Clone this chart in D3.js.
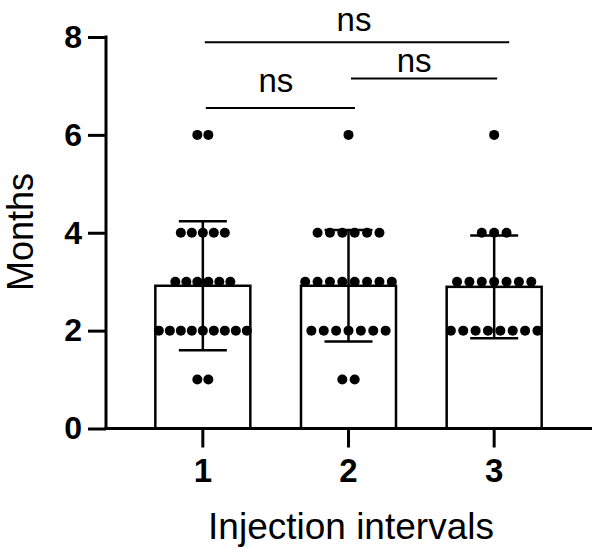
<!DOCTYPE html>
<html>
<head>
<meta charset="utf-8">
<script src="https://cdn.jsdelivr.net/npm/d3@7/dist/d3.min.js"></script>
<style>
  html, body { margin: 0; padding: 0; background: #fff; }
  svg { display: block; }
  text { font-family: "Liberation Sans", Arial, Helvetica, sans-serif; fill: #000; }
</style>
</head>
<body>
<svg id="chart" width="600" height="558"></svg>
<script>
// ---- data ----
const categories = ["1", "2", "3"];
const group1 = [6,6, 4,4,4,4,4, 3,3,3,3,3,3, 2,2,2,2,2,2,2,2,2, 1,1];
const group2 = [6, 4,4,4,4,4,4, 3,3,3,3,3,3,3,3, 2,2,2,2,2,2,2, 1,1];
const group3 = [6, 4,4,4, 3,3,3,3,3,3,3, 2,2,2,2,2,2,2,2];
const yTicks = [0, 2, 4, 6, 8];
const comparisons = [
  { from: "1", to: "3", level: 7.894, labelLevel: 8.13, label: "ns" },
  { from: "1", to: "2", level: 6.547, labelLevel: 6.867, label: "ns" },
  { from: "2", to: "3", level: 7.153, labelLevel: 7.276, label: "ns" }
];
const yTitle = "Months";
const xTitle = "Injection intervals";

const groups = [group1, group2, group3];

// ---- styling offsets for brackets (px) ----
const bracketStyle = [
  { dx1: 2, dx2: 15, ldx: -3 },
  { dx1: 3, dx2: 6.5, ldx: -4.5 },
  { dx1: 2.5, dx2: 3, ldx: -10 }
];

// ---- layout ----
const svg = d3.select("#chart");
const axisX = 106, axisBottom = 428.5, axisTop = 37, axisRight = 592;

const y = d3.scaleLinear().domain([0, 8]).range([axisBottom, axisTop]);
const x = d3.scaleBand().domain(categories).range([130, 567]).padding(0);
const cx = c => x(c) + x.bandwidth() / 2;
const barW = 95;

const stats = categories.map((c, i) => {
  const v = groups[i];
  return { c, values: v, mean: d3.mean(v), sd: d3.deviation(v) };
});

const g = svg.append("g");

// bars
g.selectAll("rect.bar").data(stats).join("rect")
  .attr("class", "bar")
  .attr("x", d => cx(d.c) - barW / 2)
  .attr("y", d => y(d.mean))
  .attr("width", barW)
  .attr("height", d => y(0) - y(d.mean))
  .attr("fill", "#fff")
  .attr("stroke", "#000")
  .attr("stroke-width", 2.5);

// error bars (mean ± SD)
const capW = 48;
stats.forEach(d => {
  const eg = g.append("g").attr("stroke", "#000").attr("stroke-width", 2.5);
  eg.append("line").attr("x1", cx(d.c)).attr("x2", cx(d.c))
    .attr("y1", y(d.mean - d.sd)).attr("y2", y(d.mean + d.sd));
  [d.mean - d.sd, d.mean + d.sd].forEach(v => {
    eg.append("line").attr("x1", cx(d.c) - capW / 2).attr("x2", cx(d.c) + capW / 2)
      .attr("y1", y(v)).attr("y2", y(v));
  });
});

// dots
stats.forEach(d => {
  const counts = d3.rollup(d.values, v => v.length, v => v);
  const maxCount = d3.max(Array.from(counts.values()));
  const spacing = Math.min(12.5, 99 / maxCount);
  const pts = [];
  counts.forEach((n, val) => {
    for (let k = 0; k < n; k++) {
      pts.push({ x: cx(d.c) + (k - (n - 1) / 2) * spacing, v: val });
    }
  });
  g.selectAll(null).data(pts).join("circle")
    .attr("cx", p => p.x)
    .attr("cy", p => y(p.v))
    .attr("r", 5)
    .attr("fill", "#000");
});

// axes
const yAxis = d3.axisLeft(y).tickValues(yTicks).tickSize(18).tickPadding(6).tickFormat(d3.format("d"));
const ya = svg.append("g").attr("transform", `translate(${axisX},0)`).call(yAxis);
ya.select(".domain").remove();
ya.append("line").attr("x1", 0).attr("x2", 0).attr("y1", axisTop - 1.5).attr("y2", axisBottom + 1.5)
  .attr("stroke", "#000").attr("stroke-width", 3);
ya.selectAll(".tick line").attr("stroke", "#000").attr("stroke-width", 3);
ya.selectAll(".tick text")
  .style("font-family", '"Liberation Sans", Arial, sans-serif')
  .style("font-size", "32px").style("font-weight", "bold").attr("fill", "#000");

const xAxis = d3.axisBottom(x).tickSize(19).tickPadding(11).tickSizeOuter(0);
const xa = svg.append("g").attr("transform", `translate(0,${axisBottom})`).call(xAxis);
xa.select(".domain").remove();
xa.append("line").attr("x1", axisX - 1.5).attr("x2", axisRight).attr("y1", 0).attr("y2", 0)
  .attr("stroke", "#000").attr("stroke-width", 3);
xa.selectAll(".tick line").attr("stroke", "#000").attr("stroke-width", 3);
xa.selectAll(".tick text")
  .style("font-family", '"Liberation Sans", Arial, sans-serif')
  .style("font-size", "33px").style("font-weight", "bold").attr("fill", "#000");

// titles
svg.append("text")
  .attr("transform", "translate(33,232) rotate(-90)")
  .attr("text-anchor", "middle")
  .style("font-size", "36px")
  .text(yTitle);

svg.append("text")
  .attr("x", 351).attr("y", 539)
  .attr("text-anchor", "middle")
  .style("font-size", "37px")
  .text(xTitle);

// significance brackets
comparisons.forEach((cmp, i) => {
  const s = bracketStyle[i];
  const x1 = cx(cmp.from) + s.dx1, x2 = cx(cmp.to) + s.dx2;
  const yy = y(cmp.level);
  svg.append("line").attr("x1", x1).attr("x2", x2).attr("y1", yy).attr("y2", yy)
    .attr("stroke", "#000").attr("stroke-width", 2);
  svg.append("text")
    .attr("x", (x1 + x2) / 2 + s.ldx).attr("y", y(cmp.labelLevel))
    .attr("text-anchor", "middle")
    .style("font-size", "33px")
    .text(cmp.label);
});
</script>
</body>
</html>
